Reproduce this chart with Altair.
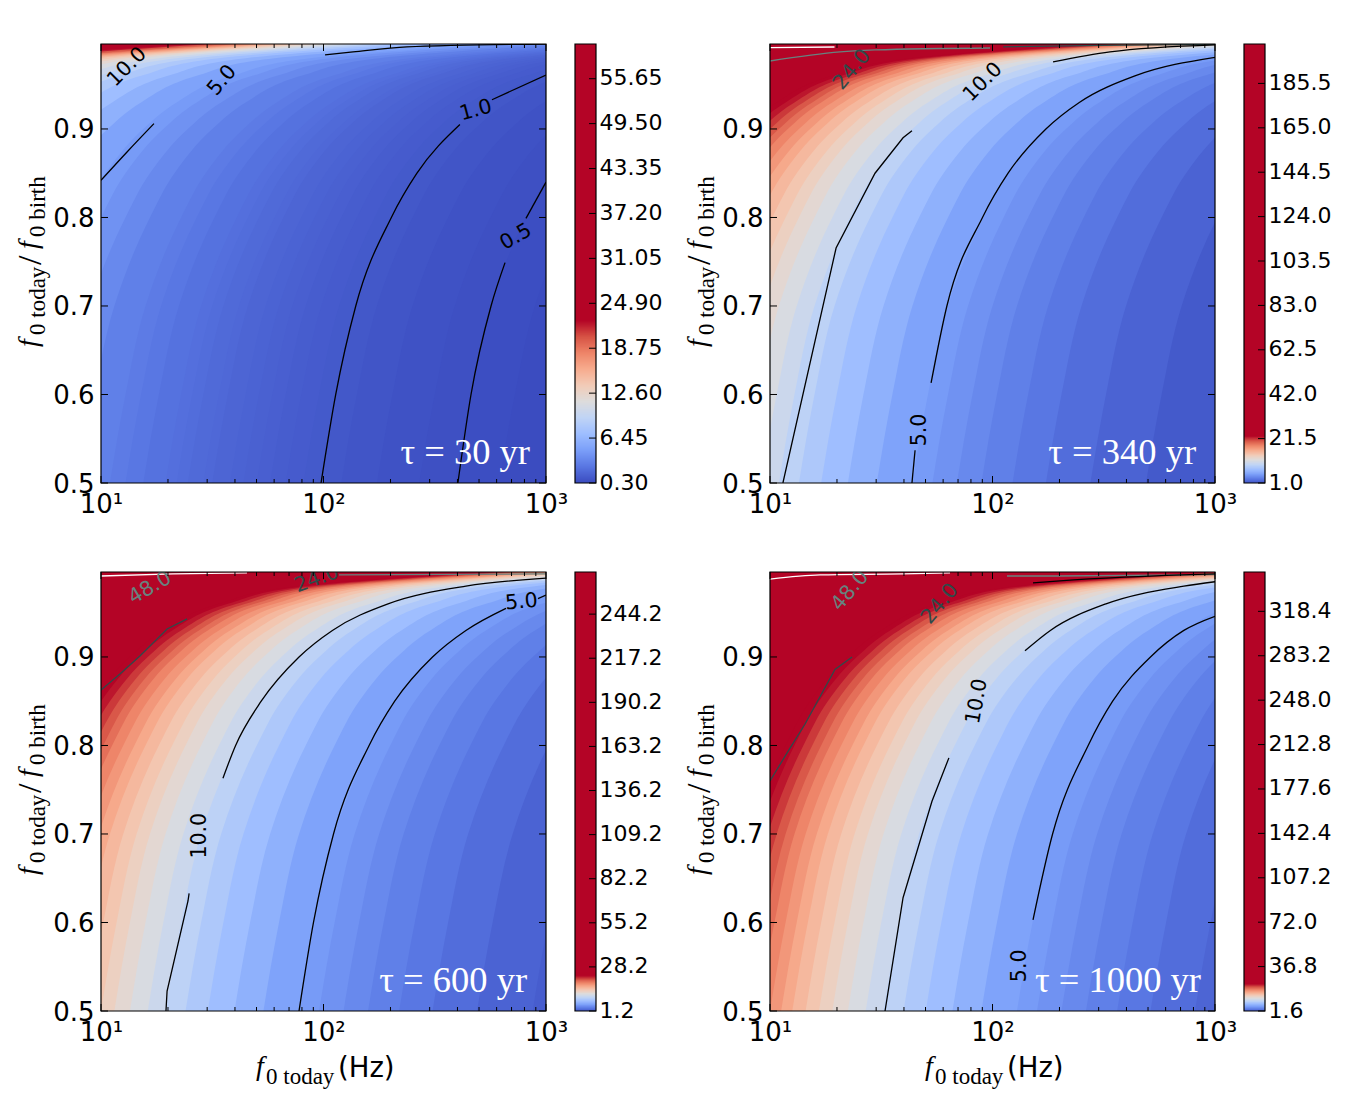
import pandas as pd
import altair as alt

W = 445
H = 439
VMAX = 22.5

Y_READ = [0.5, 0.6, 0.7, 0.8, 0.85, 0.9, 0.93, 0.96, 0.98, 0.996]

# colourmap stops
STOPS = [0, .1, .2, .3, .4, .5, .6, .7, .8, .9, 1]
COOLWARM = ["#3b4cc0", "#5977e3", "#7b9ff9", "#9ebeff", "#c0d4f5", "#dddcdc",
            "#f2cbb7", "#f7ac8e", "#ee8468", "#d65244", "#b40426"]

# log10(f0 today) of each iso-value curve, at the Y_READ positions
CURVES_30 = {
    0.3: [6, 6, 6, 6, 6, 6, 6, 6, 6, 6],
    0.4: [2.79, 2.86, 2.95, 3.11, 3.22, 3.39, 3.54, 3.79, 4.14, 4.99],
    0.5: [2.59, 2.66, 2.75, 2.91, 3.02, 3.19, 3.34, 3.59, 3.94, 4.79],
    0.6: [2.43, 2.50, 2.59, 2.75, 2.86, 3.03, 3.18, 3.43, 3.78, 4.63],
    0.75: [2.24, 2.31, 2.40, 2.56, 2.67, 2.84, 2.99, 3.24, 3.59, 4.44],
    0.9: [2.08, 2.15, 2.24, 2.40, 2.51, 2.68, 2.83, 3.08, 3.43, 4.28],
    1.0: [1.99, 2.06, 2.15, 2.31, 2.42, 2.59, 2.74, 2.99, 3.34, 4.19],
    1.1: [1.91, 1.98, 2.07, 2.23, 2.34, 2.51, 2.66, 2.91, 3.26, 4.11],
    1.2: [1.83, 1.90, 1.99, 2.15, 2.26, 2.43, 2.58, 2.83, 3.18, 4.03],
    1.3: [1.76, 1.83, 1.92, 2.08, 2.19, 2.36, 2.51, 2.76, 3.11, 3.96],
    1.4: [1.70, 1.77, 1.86, 2.02, 2.13, 2.30, 2.45, 2.70, 3.05, 3.90],
    1.5: [1.64, 1.71, 1.80, 1.96, 2.07, 2.24, 2.39, 2.64, 2.99, 3.84],
    1.6: [1.58, 1.65, 1.74, 1.90, 2.01, 2.18, 2.33, 2.58, 2.93, 3.78],
    1.75: [1.50, 1.57, 1.66, 1.82, 1.93, 2.10, 2.25, 2.50, 2.85, 3.70],
    1.85: [1.46, 1.53, 1.62, 1.78, 1.89, 2.06, 2.21, 2.46, 2.81, 3.66],
    2: [1.39, 1.46, 1.55, 1.71, 1.82, 1.99, 2.14, 2.39, 2.74, 3.59],
    2.12: [1.34, 1.41, 1.50, 1.66, 1.77, 1.94, 2.09, 2.34, 2.69, 3.54],
    2.25: [1.29, 1.36, 1.45, 1.61, 1.72, 1.89, 2.04, 2.29, 2.64, 3.49],
    2.5: [1.19, 1.26, 1.35, 1.51, 1.62, 1.79, 1.94, 2.19, 2.54, 3.39],
    2.75: [1.11, 1.18, 1.27, 1.43, 1.54, 1.71, 1.86, 2.11, 2.46, 3.31],
    3: [1.04, 1.11, 1.20, 1.36, 1.47, 1.64, 1.79, 2.04, 2.39, 3.24],
    3.5: [.90, .97, 1.06, 1.22, 1.33, 1.50, 1.65, 1.90, 2.25, 3.10],
    4: [.79, .86, .95, 1.11, 1.22, 1.39, 1.54, 1.79, 2.14, 2.99],
    4.5: [.68, .75, .84, 1.00, 1.11, 1.28, 1.43, 1.68, 2.03, 2.88],
    5: [.59, .66, .75, .91, 1.02, 1.19, 1.34, 1.59, 1.94, 2.79],
    6: [.43, .50, .59, .75, .86, 1.03, 1.18, 1.43, 1.78, 2.63],
    7: [.30, .37, .46, .62, .73, .90, 1.05, 1.30, 1.65, 2.50],
    8: [.18, .25, .34, .50, .61, .78, .93, 1.18, 1.53, 2.38],
    9: [.08, .15, .24, .40, .51, .68, .83, 1.08, 1.43, 2.28],
    10: [-.01, .06, .15, .31, .42, .59, .74, .99, 1.34, 2.19],
    11: [-.09, -.02, .07, .23, .34, .51, .66, .91, 1.26, 2.11],
    12: [-.17, -.10, -.01, .15, .26, .43, .58, .83, 1.18, 2.03],
    13: [-.24, -.17, -.08, .08, .19, .36, .51, .76, 1.11, 1.96],
    14: [-.30, -.23, -.14, .02, .13, .30, .45, .70, 1.05, 1.90],
    15: [-.36, -.29, -.20, -.04, .07, .24, .39, .64, .99, 1.84],
    16: [-.42, -.35, -.26, -.10, .01, .18, .33, .58, .93, 1.78],
    17: [-.47, -.40, -.31, -.15, -.04, .13, .28, .53, .88, 1.73],
    18: [-.52, -.45, -.36, -.20, -.09, .08, .23, .48, .83, 1.68],
    19: [-.57, -.50, -.41, -.25, -.14, .03, .18, .43, .78, 1.63],
    20: [-.61, -.54, -.45, -.29, -.18, -.01, .14, .39, .74, 1.59],
    22: [-.70, -.63, -.54, -.38, -.27, -.10, .05, .30, .65, 1.50],
    24: [-.77, -.70, -.61, -.45, -.34, -.17, -.02, .23, .58, 1.43],
}
CURVES_340 = {
    1.0: [6, 6, 6, 6, 6, 6, 6, 6, 6, 6],
    1.5: [2.69, 2.76, 2.85, 3.01, 3.12, 3.29, 3.44, 3.69, 4.04, 4.89],
    2: [2.44, 2.51, 2.60, 2.76, 2.87, 3.04, 3.19, 3.44, 3.79, 4.64],
    2.5: [2.24, 2.31, 2.40, 2.56, 2.67, 2.84, 2.99, 3.24, 3.59, 4.44],
    3: [2.09, 2.16, 2.25, 2.41, 2.52, 2.69, 2.84, 3.09, 3.44, 4.29],
    3.5: [1.95, 2.02, 2.11, 2.27, 2.38, 2.55, 2.70, 2.95, 3.30, 4.15],
    4: [1.84, 1.91, 2.00, 2.16, 2.27, 2.44, 2.59, 2.84, 3.19, 4.04],
    4.5: [1.73, 1.80, 1.89, 2.05, 2.16, 2.33, 2.48, 2.73, 3.08, 3.93],
    5: [1.64, 1.71, 1.80, 1.96, 2.07, 2.24, 2.39, 2.64, 2.99, 3.84],
    6: [1.48, 1.55, 1.64, 1.80, 1.91, 2.08, 2.23, 2.48, 2.83, 3.68],
    7: [1.35, 1.42, 1.51, 1.67, 1.78, 1.95, 2.10, 2.35, 2.70, 3.55],
    8: [1.23, 1.30, 1.39, 1.55, 1.66, 1.83, 1.98, 2.23, 2.58, 3.43],
    9: [1.13, 1.20, 1.29, 1.45, 1.56, 1.73, 1.88, 2.13, 2.48, 3.33],
    10: [1.04, 1.11, 1.20, 1.36, 1.47, 1.64, 1.79, 2.04, 2.39, 3.24],
    11: [.96, 1.03, 1.12, 1.28, 1.39, 1.56, 1.71, 1.96, 2.31, 3.16],
    12: [.88, .95, 1.04, 1.20, 1.31, 1.48, 1.63, 1.88, 2.23, 3.08],
    13: [.81, .88, .97, 1.13, 1.24, 1.41, 1.56, 1.81, 2.16, 3.01],
    14: [.75, .82, .91, 1.07, 1.18, 1.35, 1.50, 1.75, 2.10, 2.95],
    15: [.69, .76, .85, 1.01, 1.12, 1.29, 1.44, 1.69, 2.04, 2.89],
    16: [.63, .70, .79, .95, 1.06, 1.23, 1.38, 1.63, 1.98, 2.83],
    17: [.58, .65, .74, .90, 1.01, 1.18, 1.33, 1.58, 1.93, 2.78],
    18: [.53, .60, .69, .85, .96, 1.13, 1.28, 1.53, 1.88, 2.73],
    19: [.48, .55, .64, .80, .91, 1.08, 1.23, 1.48, 1.83, 2.68],
    20: [.44, .51, .60, .76, .87, 1.04, 1.19, 1.44, 1.79, 2.64],
    21: [.40, .47, .56, .72, .83, 1.00, 1.15, 1.40, 1.75, 2.60],
    22: [.36, .43, .52, .68, .79, .96, 1.11, 1.36, 1.71, 2.56],
    23: [.32, .39, .48, .64, .75, .92, 1.07, 1.32, 1.67, 2.52],
    24: [.28, .35, .44, .60, .71, .88, 1.03, 1.28, 1.63, 2.48],
}
CURVES_600 = {
    1.2: [6, 6, 6, 6, 6, 6, 6, 6, 6, 6],
    1.5: [2.94, 3.01, 3.10, 3.26, 3.37, 3.54, 3.69, 3.94, 4.29, 5.14],
    2: [2.69, 2.76, 2.85, 3.01, 3.12, 3.29, 3.44, 3.69, 4.04, 4.89],
    2.5: [2.49, 2.56, 2.65, 2.81, 2.92, 3.09, 3.24, 3.49, 3.84, 4.69],
    3: [2.34, 2.41, 2.50, 2.66, 2.77, 2.94, 3.09, 3.34, 3.69, 4.54],
    3.5: [2.20, 2.27, 2.36, 2.52, 2.63, 2.80, 2.95, 3.20, 3.55, 4.40],
    4: [2.09, 2.16, 2.25, 2.41, 2.52, 2.69, 2.84, 3.09, 3.44, 4.29],
    4.5: [1.98, 2.05, 2.14, 2.30, 2.41, 2.58, 2.73, 2.98, 3.33, 4.18],
    5: [1.89, 1.96, 2.05, 2.21, 2.32, 2.49, 2.64, 2.89, 3.24, 4.09],
    6: [1.73, 1.80, 1.89, 2.05, 2.16, 2.33, 2.48, 2.73, 3.08, 3.93],
    7: [1.60, 1.67, 1.76, 1.92, 2.03, 2.20, 2.35, 2.60, 2.95, 3.80],
    8: [1.48, 1.55, 1.64, 1.80, 1.91, 2.08, 2.23, 2.48, 2.83, 3.68],
    9: [1.38, 1.45, 1.54, 1.70, 1.81, 1.98, 2.13, 2.38, 2.73, 3.58],
    10: [1.29, 1.36, 1.45, 1.61, 1.72, 1.89, 2.04, 2.29, 2.64, 3.49],
    11: [1.21, 1.28, 1.37, 1.53, 1.64, 1.81, 1.96, 2.21, 2.56, 3.41],
    12: [1.13, 1.20, 1.29, 1.45, 1.56, 1.73, 1.88, 2.13, 2.48, 3.33],
    13: [1.06, 1.13, 1.22, 1.38, 1.49, 1.66, 1.81, 2.06, 2.41, 3.26],
    14: [1.00, 1.07, 1.16, 1.32, 1.43, 1.60, 1.75, 2.00, 2.35, 3.20],
    15: [.94, 1.01, 1.10, 1.26, 1.37, 1.54, 1.69, 1.94, 2.29, 3.14],
    16: [.88, .95, 1.04, 1.20, 1.31, 1.48, 1.63, 1.88, 2.23, 3.08],
    17: [.83, .90, .99, 1.15, 1.26, 1.43, 1.58, 1.83, 2.18, 3.03],
    18: [.78, .85, .94, 1.10, 1.21, 1.38, 1.53, 1.78, 2.13, 2.98],
    19: [.73, .80, .89, 1.05, 1.16, 1.33, 1.48, 1.73, 2.08, 2.93],
    20: [.69, .76, .85, 1.01, 1.12, 1.29, 1.44, 1.69, 2.04, 2.89],
    21: [.65, .72, .81, .97, 1.08, 1.25, 1.40, 1.65, 2.00, 2.85],
    22: [.61, .68, .77, .93, 1.04, 1.21, 1.36, 1.61, 1.96, 2.81],
    23: [.57, .64, .73, .89, 1.00, 1.17, 1.32, 1.57, 1.92, 2.77],
    24: [.53, .60, .69, .85, .96, 1.13, 1.28, 1.53, 1.88, 2.73],
}
CURVES_1000 = {
    1.6: [6, 6, 6, 6, 6, 6, 6, 6, 6, 6],
    2: [2.91, 2.98, 3.07, 3.23, 3.34, 3.51, 3.66, 3.91, 4.26, 5.11],
    2.5: [2.71, 2.78, 2.87, 3.03, 3.14, 3.31, 3.46, 3.71, 4.06, 4.91],
    3: [2.56, 2.63, 2.72, 2.88, 2.99, 3.16, 3.31, 3.56, 3.91, 4.76],
    3.5: [2.42, 2.49, 2.58, 2.74, 2.85, 3.02, 3.17, 3.42, 3.77, 4.62],
    4: [2.31, 2.38, 2.47, 2.63, 2.74, 2.91, 3.06, 3.31, 3.66, 4.51],
    4.5: [2.20, 2.27, 2.36, 2.52, 2.63, 2.80, 2.95, 3.20, 3.55, 4.40],
    5: [2.11, 2.18, 2.27, 2.43, 2.54, 2.71, 2.86, 3.11, 3.46, 4.31],
    6: [1.95, 2.02, 2.11, 2.27, 2.38, 2.55, 2.70, 2.95, 3.30, 4.15],
    7: [1.82, 1.89, 1.98, 2.14, 2.25, 2.42, 2.57, 2.82, 3.17, 4.02],
    8: [1.70, 1.77, 1.86, 2.02, 2.13, 2.30, 2.45, 2.70, 3.05, 3.90],
    9: [1.60, 1.67, 1.76, 1.92, 2.03, 2.20, 2.35, 2.60, 2.95, 3.80],
    10: [1.51, 1.58, 1.67, 1.83, 1.94, 2.11, 2.26, 2.51, 2.86, 3.71],
    11: [1.43, 1.50, 1.59, 1.75, 1.86, 2.03, 2.18, 2.43, 2.78, 3.63],
    12: [1.35, 1.42, 1.51, 1.67, 1.78, 1.95, 2.10, 2.35, 2.70, 3.55],
    13: [1.28, 1.35, 1.44, 1.60, 1.71, 1.88, 2.03, 2.28, 2.63, 3.48],
    14: [1.22, 1.29, 1.38, 1.54, 1.65, 1.82, 1.97, 2.22, 2.57, 3.42],
    15: [1.16, 1.23, 1.32, 1.48, 1.59, 1.76, 1.91, 2.16, 2.51, 3.36],
    16: [1.10, 1.17, 1.26, 1.42, 1.53, 1.70, 1.85, 2.10, 2.45, 3.30],
    17: [1.05, 1.12, 1.21, 1.37, 1.48, 1.65, 1.80, 2.05, 2.40, 3.25],
    18: [1.00, 1.07, 1.16, 1.32, 1.43, 1.60, 1.75, 2.00, 2.35, 3.20],
    19: [.95, 1.02, 1.11, 1.27, 1.38, 1.55, 1.70, 1.95, 2.30, 3.15],
    20: [.91, .98, 1.07, 1.23, 1.34, 1.51, 1.66, 1.91, 2.26, 3.11],
    21: [.87, .94, 1.03, 1.19, 1.30, 1.47, 1.62, 1.87, 2.22, 3.07],
    22: [.83, .90, .99, 1.15, 1.26, 1.43, 1.58, 1.83, 2.18, 3.03],
    23: [.79, .86, .95, 1.11, 1.22, 1.39, 1.54, 1.79, 2.14, 2.99],
    24: [.75, .82, .91, 1.07, 1.18, 1.35, 1.50, 1.75, 2.10, 2.95],
}

BLACK = "#000000"
DARK = "#2f4a4a"
GREY = "#67827f"
WHITE = "#ffffff"
SMOOTH = "monotone"
KINKED = "linear"

# contour line pieces: colour, line shape, log10(f), y
LINES_30 = [
    (BLACK, SMOOTH, [1.0, 1.117, 1.238], [.842, .874, .906]),
    (BLACK, SMOOTH, [2.007, 2.133, 2.375, 3.0], [.9836, .987, .9927, .996]),
    (BLACK, SMOOTH, [1.989, 2.055, 2.145, 2.305, 2.42, 2.613], [.5, .6, .7, .8, .85, .905]),
    (BLACK, SMOOTH, [2.757, 3.0], [.933, .961]),
    (BLACK, SMOOTH, [2.604, 2.663, 2.753, 2.816], [.5, .6, .7, .749]),
    (BLACK, SMOOTH, [2.91, 3.0], [.799, .84]),
]
LINES_340 = [
    (WHITE, KINKED, [1.0, 1.29], [.992, .9926]),
    (GREY, SMOOTH, [1.0, 1.315, 1.472, 1.989], [.9768, .987, .9893, .9915]),
    (DARK, KINKED, [2.048, 2.483, 3.0], [.9927, .9944, .9955]),
    (BLACK, KINKED, [1.058, 1.297, 1.472, 1.598, 1.638], [.5, .7655, .85, .89, .898]),
    (BLACK, SMOOTH, [2.272, 2.528, 3.0], [.9757, .987, .995]),
    (BLACK, KINKED, [1.638, 1.652], [.5, .537]),
    (BLACK, SMOOTH, [1.724, 1.795, 1.955, 2.07, 2.24, 2.39, 2.64, 3.0],
     [.613, .7, .8, .85, .9, .93, .96, .981]),
]
LINES_600 = [
    (WHITE, SMOOTH, [1.0, 1.324, 1.656], [.9915, .9938, .995]),
    (GREY, KINKED, [2.07, 3.0], [.9927, .9938]),
    (DARK, KINKED, [1.0, 1.085, 1.175, 1.297, 1.387], [.8627, .8808, .9011, .9316, .943]),
    (BLACK, SMOOTH, [1.548, 1.605, 1.72, 1.89, 2.04, 2.29, 2.64, 3.0],
     [.763, .8, .85, .9, .93, .96, .98, .989]),
    (BLACK, KINKED, [1.292, 1.297, 1.391, 1.396], [.5, .5226, .6243, .633]),
    (BLACK, SMOOTH, [1.89, 1.955, 2.045, 2.205, 2.32, 2.49, 2.64, 2.82],
     [.5, .6, .7, .8, .85, .9, .93, .955]),
    (BLACK, KINKED, [2.964, 3.0], [.966, .97]),
]
LINES_1000 = [
    (WHITE, SMOOTH, [1.0, 1.225, 1.598, 1.809], [.988, .9927, .9938, .995]),
    (GREY, KINKED, [2.065, 2.294, 3.0], [.9915, .9915, .993]),
    (BLACK, SMOOTH, [2.182, 2.303, 3.0], [.9836, .986, .9938]),
    (DARK, KINKED, [1.0, 1.09, 1.157, 1.292, 1.369], [.76, .797, .824, .886, .9]),
    (BLACK, SMOOTH, [2.146, 2.26, 2.51, 2.86, 3.0], [.907, .93, .96, .98, .985]),
    (BLACK, KINKED, [1.517, 1.598, 1.728, 1.804], [.5, .628, .737, .786]),
    (BLACK, SMOOTH, [2.182, 2.27, 2.43, 2.54, 2.71, 2.86, 3.0],
     [.603, .7, .8, .85, .9, .93, .946]),
]

# contour labels: text, log10(f), y, angle, colour
LABELS_30 = [("10.0", 1.117, .97, 315, BLACK), ("5.0", 1.544, .955, 310, BLACK),
             ("1.0", 2.685, .921, 345, BLACK), ("0.5", 2.865, .778, 330, BLACK)]
LABELS_340 = [("24.0", 1.369, .967, 310, DARK), ("10.0", 1.957, .953, 315, BLACK),
              ("5.0", 1.674, .56, 270, BLACK)]
LABELS_600 = [("48.0", 1.22, .978, 330, GREY), ("24.0", 1.97, .988, 340, DARK),
              ("10.0", 1.445, .698, 270, BLACK), ("5.0", 2.89, .962, 355, BLACK)]
LABELS_1000 = [("48.0", 1.36, .975, 310, GREY), ("24.0", 1.764, .96, 310, DARK),
               ("10.0", 1.93, .85, 280, BLACK), ("5.0", 2.124, .551, 270, BLACK)]

CBAR_30 = [0.30, 6.45, 12.60, 18.75, 24.90, 31.05, 37.20, 43.35, 49.50, 55.65]
CBAR_340 = [1.0, 21.5, 42.0, 62.5, 83.0, 103.5, 124.0, 144.5, 165.0, 185.5]
CBAR_600 = [1.2, 28.2, 55.2, 82.2, 109.2, 136.2, 163.2, 190.2, 217.2, 244.2]
CBAR_1000 = [1.6, 36.8, 72.0, 107.2, 142.4, 177.6, 212.8, 248.0, 283.2, 318.4]

Y_TICKS = [0.5, 0.6, 0.7, 0.8, 0.9]
X_MAJOR = [10, 100, 1000]
X_MINOR = [20, 30, 40, 50, 60, 70, 80, 90, 200, 300, 400, 500, 600, 700, 800, 900]


def text_mark(txt, x, y, size, font="DejaVu Sans", style="normal", angle=0):
    return alt.Chart(pd.DataFrame({"a": [0]})).mark_text(
        text=txt, font=font, fontSize=size, fontStyle=style, angle=angle,
        align="left", baseline="alphabetic", color="black"
    ).encode(x=alt.value(x), y=alt.value(y))


def panel(curves, lines, labels, ticks, cb_top, tau_text, tau_log, cb_fmt, show_xtitle):
    vmin = min(curves)
    xs = alt.Scale(type="log", domain=[10, 1000], nice=False)
    ys = alt.Scale(domain=[0.5, 0.996], nice=False, zero=False)
    cs = alt.Scale(domain=[vmin + t * (VMAX - vmin) for t in STOPS], range=COOLWARM,
                   interpolate="rgb", clamp=True)

    rows = []
    for level, vals in curves.items():
        for y, v in zip(Y_READ, vals):
            rows.append({"level": level, "y": y, "f": 10 ** v, "f0": 10})
    bands = alt.Chart(pd.DataFrame(rows)).mark_area(
        orient="horizontal", clip=True, interpolate="monotone"
    ).encode(
        y=alt.Y("y:Q", scale=ys, axis=alt.Axis(
            values=Y_TICKS, format=".1f", title=None, grid=False, ticks=False, domain=False,
            labelFontSize=26, labelFont="DejaVu Sans", labelColor="black", labelPadding=7,
            labelOffset=1)),
        x=alt.X("f:Q", scale=xs, axis=alt.Axis(
            values=X_MAJOR, title=None, grid=False, ticks=False, domain=False, labelFlush=False,
            labelFontSize=26, labelFont="DejaVu Sans", labelColor="black", labelPadding=8,
            labelExpr="datum.value == 10 ? '10¹' : datum.value == 100 ? '10²' : '10³'")),
        x2="f0:Q",
        color=alt.Color("level:Q", scale=cs, legend=None),
        detail="level:Q",
    )
    layers = [bands]

    for col, shape, lx, ly in lines:
        df = pd.DataFrame({"f": [10 ** v for v in lx], "y": ly})
        layers.append(alt.Chart(df).mark_line(
            clip=True, color=col, strokeWidth=1.3, interpolate=shape
        ).encode(x=alt.X("f:Q", scale=xs), y=alt.Y("y:Q", scale=ys), order="f:Q"))

    for txt, lx, ly, ang, col in labels:
        df = pd.DataFrame({"f": [10 ** lx], "y": [ly], "t": [txt]})
        layers.append(alt.Chart(df).mark_text(
            clip=True, angle=ang, color=col, fontSize=20.5, font="DejaVu Sans"
        ).encode(x=alt.X("f:Q", scale=xs), y=alt.Y("y:Q", scale=ys), text="t:N"))

    tau_df = pd.DataFrame({"f": [10 ** tau_log], "y": [0.522], "t": [tau_text]})
    layers.append(alt.Chart(tau_df).mark_text(
        align="right", baseline="alphabetic", color="white", fontSize=36.5, font="Liberation Serif"
    ).encode(x=alt.X("f:Q", scale=xs), y=alt.Y("y:Q", scale=ys), text="t:N"))

    # matplotlib style inward ticks on all four sides
    major = pd.DataFrame({"f": X_MAJOR})
    minor = pd.DataFrame({"f": X_MINOR})
    yt = pd.DataFrame({"y": Y_TICKS})
    for df, ln in ((major, 7), (minor, 4)):
        layers.append(alt.Chart(df).mark_rule(color="black", strokeWidth=1).encode(
            x=alt.X("f:Q", scale=xs), y=alt.value(H), y2=alt.value(H - ln)))
        layers.append(alt.Chart(df).mark_rule(color="black", strokeWidth=1).encode(
            x=alt.X("f:Q", scale=xs), y=alt.value(0), y2=alt.value(ln)))
    layers.append(alt.Chart(yt).mark_rule(color="black", strokeWidth=1).encode(
        y=alt.Y("y:Q", scale=ys), x=alt.value(0), x2=alt.value(7)))
    layers.append(alt.Chart(yt).mark_rule(color="black", strokeWidth=1).encode(
        y=alt.Y("y:Q", scale=ys), x=alt.value(W - 7), x2=alt.value(W)))

    layers.append(alt.Chart(pd.DataFrame({"a": [0]})).mark_rect(
        filled=False, stroke="black", strokeWidth=1.2
    ).encode(x=alt.value(0), x2=alt.value(W), y=alt.value(0), y2=alt.value(H)))

    # y title, built from pieces because of the mixed sizes
    layers += [
        text_mark("f", -64, 303, 28, "Liberation Serif", "italic", 270),
        text_mark("0 today", -56, 291, 23, "Liberation Serif", "normal", 270),
        text_mark("/", -60, 221, 34, "Liberation Serif", "normal", 270),
        text_mark("f", -64, 205, 28, "Liberation Serif", "italic", 270),
        text_mark("0 birth", -56, 193, 23, "Liberation Serif", "normal", 270),
    ]
    if show_xtitle:
        layers += [
            text_mark("f", 155, H + 64, 28, "Liberation Serif", "italic"),
            text_mark("0 today", 165, H + 73, 23, "Liberation Serif"),
            text_mark("(Hz)", 237, H + 66, 27.5),
        ]
    main = alt.layer(*layers)

    # colourbar, sits inside the same chart with its own y scale
    cys = alt.Scale(domain=[vmin, cb_top], nice=False, zero=False)
    step = (ticks[1] - ticks[0]) / 45
    cb_levels = [vmin + i * step for i in range(int((24 - vmin) / step) + 2)]
    cb_df = pd.DataFrame({"level": cb_levels, "low": cb_levels, "high": cb_top})
    cb_rect = alt.Chart(cb_df).mark_rect().encode(
        x=alt.value(474), x2=alt.value(495),
        y=alt.Y("low:Q", scale=cys, axis=alt.Axis(
            orient="right", offset=49, values=ticks, format=cb_fmt, title=None, grid=False,
            ticks=False, domain=False, labelFontSize=22, labelFont="DejaVu Sans",
            labelColor="black", labelPadding=4, labelOffset=-1)),
        y2="high:Q",
        color=alt.Color("level:Q", scale=cs, legend=None),
    )
    cb_ticks = alt.Chart(pd.DataFrame({"v": ticks})).mark_rule(color="black", strokeWidth=1).encode(
        y=alt.Y("v:Q", scale=cys), x=alt.value(488), x2=alt.value(495))
    cb_box = alt.Chart(pd.DataFrame({"a": [0]})).mark_rect(
        filled=False, stroke="black", strokeWidth=1.2
    ).encode(x=alt.value(474), x2=alt.value(495), y=alt.value(0), y2=alt.value(H))
    cbar = alt.layer(cb_rect, cb_ticks, cb_box)

    return alt.layer(main, cbar).resolve_scale(y="independent").properties(width=W, height=H)


p1 = panel(CURVES_30, LINES_30, LABELS_30, CBAR_30, 60.4, "τ = 30 yr", 2.928, ".2f", False)
p2 = panel(CURVES_340, LINES_340, LABELS_340, CBAR_340, 203.7, "τ = 340 yr", 2.915, ".1f", False)
p3 = panel(CURVES_600, LINES_600, LABELS_600, CBAR_600, 270.0, "τ = 600 yr", 2.915, ".1f", True)
p4 = panel(CURVES_1000, LINES_1000, LABELS_1000, CBAR_1000, 349.6, "τ = 1000 yr", 2.937, ".1f", True)

chart = alt.concat(
    p1, p2, p3, p4, columns=2, spacing={"row": 89, "column": 224}, bounds="flush"
).properties(
    padding={"left": 6, "top": 35, "right": 5, "bottom": 5}
).configure_view(stroke=None)

chart.save("out.html", embed_options={"renderer": "svg", "actions": False})
